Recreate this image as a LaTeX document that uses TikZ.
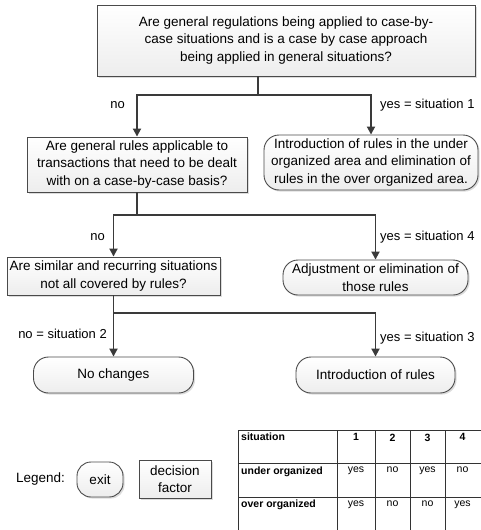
\documentclass[tikz,border=0pt]{standalone}
\usepackage{fontspec}
\setmainfont{Liberation Sans}
\usepackage{xcolor}
\usepackage{tikz}
\usetikzlibrary{arrows.meta}
\usetikzlibrary{shadows}
\definecolor{edge}{HTML}{4A4A4A}
\definecolor{flowline}{HTML}{3A3A3A}
\newcommand{\boxfont}{\fontsize{13.5}{17.5}\selectfont}
\newcommand{\lblfont}{\fontsize{13}{15}\selectfont}
\newcommand{\tabfont}{\fontsize{10.5}{12}\selectfont}
\begin{document}
\begin{tikzpicture}[x={(1pt,0)},y={(0,-1pt)},
  decision/.style={draw=edge, line width=0.9pt, top color=white, bottom color=gray!14,
    drop shadow={shadow xshift=1.6pt, shadow yshift=-1.6pt, fill=gray!55},
    align=center, inner sep=2pt, font=\boxfont},
  exitbox/.style={decision, rounded corners=15pt},
  flow/.style={draw=flowline, line width=1.8pt, -{Triangle[width=8pt,length=8pt]}},
  stem/.style={draw=flowline, line width=1.8pt},
  lbl/.style={font=\lblfont, inner sep=1pt},
  gridline/.style={draw=black!80, line width=0.8pt}]
  \useasboundingbox (0,0) rectangle (480,530);
  \node[decision, minimum width=378, minimum height=71] (top) at (286,40.5)
    {Are general regulations being applied to case-by-\\case situations and is a case by case approach\\being applied in general situations?};
  \node[decision, minimum width=220, minimum height=55] (rules) at (137,164.5)
    {Are general rules applicable to\\transactions that need to be dealt\\with on a case-by-case basis?};
  \node[exitbox, minimum width=214, minimum height=55] (sit1) at (371,162.5)
    {Introduction of rules in the under\\organized area and elimination of\\rules in the over organized area.};
  \node[decision, minimum width=213, minimum height=38] (similar) at (113.5,276)
    {Are similar and recurring situations\\not all covered by rules?};
  \node[exitbox, minimum width=185, minimum height=35] (sit4) at (375.5,277.5)
    {Adjustment or elimination of\\those rules};
  \node[exitbox, minimum width=160, minimum height=36] (sit2) at (113.5,375) {No changes};
  \node[exitbox, minimum width=159, minimum height=36] (sit3) at (375.5,375) {Introduction of rules};

  \coordinate (j1) at (258,95);
  \coordinate (j2) at (137,215);
  \coordinate (j3) at (113.5,313);
  \draw[stem] (j1 |- top.south) -- (j1);
  \draw[flow] (j1) -| (rules);
  \draw[flow] (j1) -| (sit1);
  \draw[stem] (rules.south) -- (j2);
  \draw[flow] (j2) -| (similar);
  \draw[flow] (j2) -| (sit4);
  \draw[stem] (similar.south) -- (j3);
  \draw[flow] (j3) -- (sit2);
  \draw[flow] (j3) -| (sit3);

  \node[lbl, anchor=east] (no1) at (126,105) {no};
  \node[lbl, anchor=west] (yes1) at (379,105) {yes = situation 1};
  \node[lbl, anchor=east] (no2) at (106,237) {no};
  \node[lbl, anchor=west] (yes4) at (379,237) {yes = situation 4};
  \node[lbl, anchor=east] (no3) at (108,334) {no = situation 2};
  \node[lbl, anchor=west] (yes3) at (379,338) {yes = situation 3};

  % legend
  \node[lbl, font=\boxfont, anchor=west] (legend) at (15,479) {Legend:};
  \node[exitbox, rounded corners=14pt, minimum width=46, minimum height=35] (lgexit) at (100,479.5) {exit};
  \node[decision, minimum width=72, minimum height=38] (lgdecision) at (175,479) {decision\\factor};

  % table
  \foreach \y in {430,463.5,497}
  {\draw[gridline] (238,\y) -- (482,\y);}
  \foreach \x in {238,337,375,410,445}
  {\draw[gridline] (\x,430) -- (\x,532);}
  \foreach \r/\a/\b/\c/\d [count=\i] in {situation/\textbf{1}/\textbf{2}/\textbf{3}/\textbf{4},
    under organized/yes/no/yes/no,
    over organized/yes/no/no/yes}
  {\node[anchor=north west, font=\tabfont\bfseries, inner sep=1pt] (row\i) at (240,398.5+33.5*\i) {\r};
  \foreach \v/\cx [count=\j] in {\a/356,\b/392.5,\c/427.5,\d/462.5}
  {\node[anchor=north, font=\tabfont, inner sep=1pt] (cell\i\j) at (\cx,399+33.5*\i) {\v};}}
\end{tikzpicture}
\end{document}
